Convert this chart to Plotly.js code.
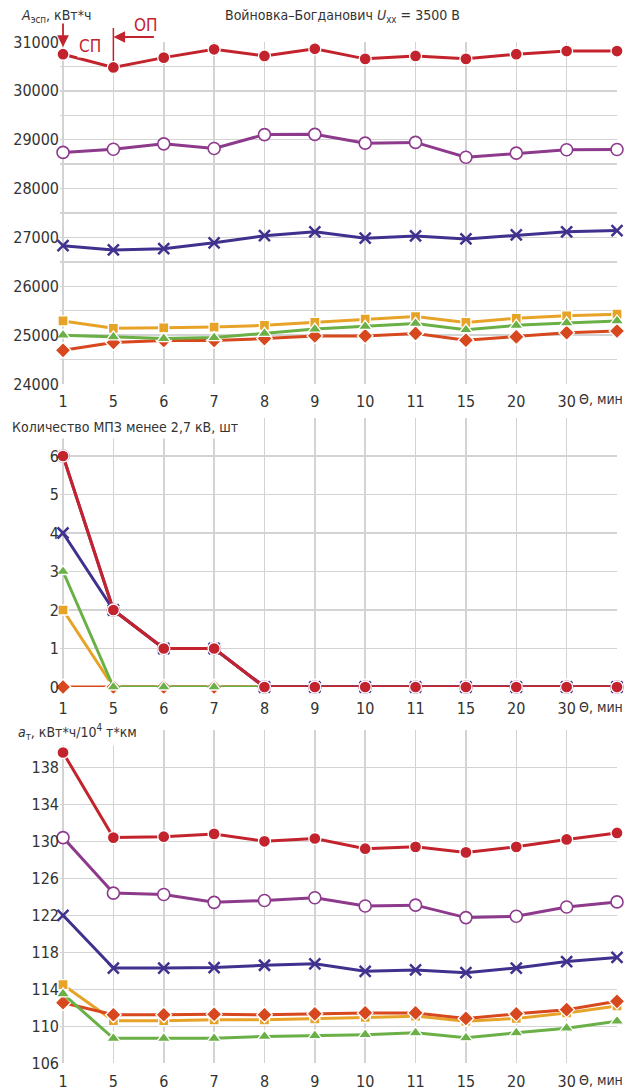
<!DOCTYPE html>
<html><head><meta charset="utf-8">
<script src="https://cdn.plot.ly/plotly-3.0.1.min.js"></script>
<style>html,body{margin:0;padding:0;background:#fff}</style>
</head><body><div id="chart" style="width:636px;height:1092px"></div>
<script>
// categories (Θ, min); last point has no printed label
const thetaLabels = ['1','5','6','7','8','9','10','11','15','20','30',''];

// Panel 1: A_эсп, кВт*ч
const aRed     = [30750,30480,30680,30850,30715,30860,30655,30715,30655,30750,30815,30815];
const aPurple  = [28740,28805,28915,28820,29105,29110,28930,28945,28640,28725,28795,28800];
const aNavy    = [26830,26745,26770,26890,27035,27115,26985,27030,26970,27050,27115,27140];
const aOrange  = [25290,25140,25150,25165,25200,25260,25330,25380,25260,25345,25395,25430];
const aGreen   = [25000,24965,24930,24950,25035,25125,25180,25240,25110,25200,25250,25290];
const aDiamond = [24690,24850,24890,24890,24930,24985,24985,25035,24895,24965,25050,25085];
const aTicks   = ['24000','25000','26000','27000','28000','29000','30000','31000'];

// Panel 2: Количество МПЗ менее 2,7 кВ, шт
const nRed     = [6,2,1,1,0,0,0,0,0,0,0,0];
const nPurple  = [6,2,1,1,0,0,0,0,0,0,0,0];
const nNavy    = [4,2,1,1,0,0,0,0,0,0,0,0];
const nOrange  = [2,0,0,0,0,0,0,0,0,0,0,0];
const nGreen   = [3,0,0,0,0,0,0,0,0,0,0,0];
const nDiamond = [0,0,0,0,0,0,0,0,0,0,0,0];
const nTicks   = ['0','1','2','3','4','5','6',''];

// Panel 3: a_т, кВт*ч/10^4 т*км
const tRed     = [139.6,130.4,130.5,130.8,130.0,130.3,129.2,129.4,128.8,129.4,130.2,130.9];
const tPurple  = [130.4,124.4,124.25,123.4,123.6,123.9,123.0,123.1,121.75,121.9,122.9,123.45];
const tNavy    = [122.0,116.3,116.3,116.35,116.6,116.75,115.95,116.1,115.8,116.3,117.0,117.45];
const tOrange  = [114.5,110.6,110.6,110.7,110.7,110.8,110.95,111.1,110.55,110.85,111.45,112.2];
const tGreen   = [113.5,108.7,108.7,108.7,108.9,109.0,109.1,109.3,108.75,109.3,109.8,110.55];
const tDiamond = [112.55,111.25,111.25,111.3,111.25,111.35,111.45,111.45,110.85,111.35,111.8,112.7];
const tTicks   = ['106','110','114','118','122','126','130','134','138',''];

const W = 636, H = 1092;
const px = x => x / W;
const py = y => 1 - y / H;
const xIdx = thetaLabels.map((_, i) => i);

const styles = {
  orange:  {color:'#e7a328', symbol:'square', size:10},
  diamond: {color:'#d8481f', symbol:'diamond', size:12},
  green:   {color:'#6bb047', symbol:'triangle-up', size:12},
  navy:    {color:'#41318f', symbol:'x-thin-open', size:11},
  purple:  {color:'#8d3a8d', symbol:'circle', size:12, open:true},
  red:     {color:'#c3232c', symbol:'circle', size:12}
};

function tr(y, key, n) {
  const s = styles[key];
  let marker;
  if (s.symbol === 'x-thin-open') {
    marker = {symbol:s.symbol, size:s.size, color:s.color, line:{color:s.color, width:2.5}};
  } else if (s.open) {
    marker = {symbol:'circle', size:s.size, color:'#ffffff', line:{color:s.color, width:1.6}};
  } else {
    marker = {symbol:s.symbol, size:s.size, color:s.color, line:{color:'#ffffff', width:1.3}};
  }
  return {x:xIdx, y:y, type:'scatter', mode:'lines+markers', xaxis:'x'+(n>1?n:''), yaxis:'y'+(n>1?n:''),
    line:{color:s.color, width:3}, marker:marker, cliponaxis:false, showlegend:false, hoverinfo:'skip'};
}

const order = ['orange','diamond','green','navy','purple','red'];
const p1 = {orange:aOrange, diamond:aDiamond, green:aGreen, navy:aNavy, purple:aPurple, red:aRed};
const p2 = {orange:nOrange, diamond:nDiamond, green:nGreen, navy:nNavy, purple:nPurple, red:nRed};
const p3 = {orange:tOrange, diamond:tDiamond, green:tGreen, navy:tNavy, purple:tPurple, red:tRed};
const data = [];
order.forEach(k => data.push(tr(p1[k], k, 1)));
order.forEach(k => data.push(tr(p2[k], k, 2)));
order.forEach(k => data.push(tr(p3[k], k, 3)));

const FONT = '"Liberation Sans Narrow", "DejaVu Sans Condensed", "Roboto Condensed", Arial, sans-serif';
const GRID = '#d3d3d3';
const xDomain = [px(60), px(617)];

function xa(anchor, standoff) {
  return {domain:xDomain, anchor:anchor, range:[-0.06, 11], tickmode:'array', tickvals:xIdx, ticktext:thetaLabels,
    showgrid:true, gridcolor:GRID, gridwidth:1.5, zeroline:false, showline:false, ticks:'',
    ticklabelstandoff:standoff, tickfont:{family:FONT, size:16, color:'#333'}};
}
function ya(anchor, dom, range, labels, minor) {
  const step = (range[1] - range[0]) / (labels.length - 1);
  const vals = labels.map((_, i) => range[0] + i * step);
  const o = {domain:dom, anchor:anchor, range:range, tickmode:'array', tickvals:vals, ticktext:labels,
    showgrid:true, gridcolor:GRID, gridwidth:1.5, zeroline:false, showline:false, ticks:'',
    tickfont:{family:FONT, size:16, color:'#333'}};
  if (minor) o.minor = {dtick:minor, tick0:range[0], showgrid:true, gridcolor:GRID, gridwidth:1.5};
  return o;
}

const annFont = (size, color) => ({family:FONT, size:size, color:color || '#333'});
const thetaAnn = (xr, yr, yv, ys) => ({xref:xr, yref:yr, x:11, y:yv, xanchor:'right', yanchor:'middle', xshift:8, yshift:ys,
  text:'Θ, мин', showarrow:false, font:annFont(14)});

const layout = {
  width:W, height:H, margin:{l:0, r:0, t:0, b:0}, paper_bgcolor:'#fff', plot_bgcolor:'#fff',
  xaxis:xa('y', 6), xaxis2:xa('y2', 10), xaxis3:xa('y3', 7),
  yaxis:ya('x', [py(384), py(42)], [24000, 31000], aTicks, 500),
  yaxis2:ya('x2', [py(687), py(417.5)], [0, 7], nTicks),
  yaxis3:ya('x3', [py(1063.3), py(730.3)], [106, 142], tTicks),
  shapes:[
    {type:'line', xref:'x', yref:'paper', x0:1, x1:1, y0:py(28), y1:py(61), line:{color:'#c3232c', width:1.5}}
  ],
  annotations:[
    {xref:'paper', yref:'paper', x:px(342), y:py(16), text:'Войновка–Богданович <i>U</i><sub>хх</sub> = 3500 В',
      showarrow:false, font:annFont(14), xanchor:'center', yanchor:'middle'},
    {xref:'paper', yref:'paper', x:px(19), y:py(16), text:'<i>A</i><sub>эсп</sub>, кВт*ч',
      showarrow:false, font:annFont(14), xanchor:'left', yanchor:'middle'},
    {xref:'paper', yref:'paper', x:px(8), y:py(427), text:'Количество МПЗ менее 2,7 кВ, шт',
      showarrow:false, font:annFont(14), xanchor:'left', yanchor:'middle', bgcolor:'#fff', borderpad:3},
    {xref:'paper', yref:'paper', x:px(14), y:py(732), text:'<i>a</i><sub>т</sub>, кВт*ч/10<sup>4</sup> т*км',
      showarrow:false, font:annFont(14), xanchor:'left', yanchor:'middle', bgcolor:'#fff', borderpad:3},
    thetaAnn('x', 'y', 24000, -15),
    thetaAnn('x2', 'y2', 0, -20),
    thetaAnn('x3', 'y3', 106, -17),
    // СП marker
    {xref:'x', yref:'paper', x:0, y:py(47), ax:0, ay:-25, showarrow:true, arrowhead:2, arrowsize:1.3, arrowwidth:1.8,
      arrowcolor:'#c3232c', text:''},
    {xref:'paper', yref:'paper', x:px(77), y:py(46), text:'СП', showarrow:false, font:annFont(17, '#c3232c'),
      xanchor:'left', yanchor:'middle', bgcolor:'#fff', borderpad:1},
    // ОП marker
    {xref:'x', yref:'paper', x:1, y:py(37), ax:42, ay:0, showarrow:true, arrowhead:2, arrowsize:1.3, arrowwidth:1.8,
      arrowcolor:'#c3232c', text:''},
    {xref:'paper', yref:'paper', x:px(146), y:py(25), text:'ОП', showarrow:false, font:annFont(17, '#c3232c'),
      xanchor:'center', yanchor:'middle'}
  ]
};

Plotly.newPlot('chart', data, layout, {displayModeBar:false, staticPlot:true});
</script></body></html>
